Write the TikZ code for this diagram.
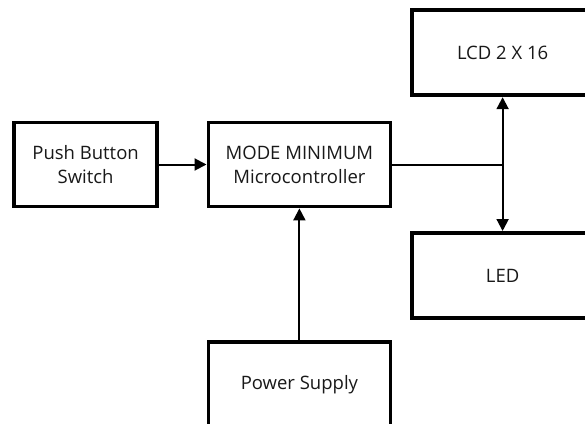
\documentclass[tikz,border=0pt]{standalone}
\usepackage{fontspec}
\setmainfont{Open Sans}
\usetikzlibrary{arrows.meta}
\begin{document}
\begin{tikzpicture}[x=1pt,y=-1pt,
  blk/.style={draw=black,line width=3.8pt,fill=white,align=center,inner sep=0pt,
    font=\fontsize{18.5}{24}\selectfont,text=black!90},
  conn/.style={line width=2pt,draw=black},
  arr/.style={conn,-{Triangle[length=12pt,width=12pt]}}]
\useasboundingbox (0,0) rectangle (585,423);
\clip (0,0) rectangle (585,423);
\fill[white] (0,0) rectangle (585,423);
\node[blk,minimum width=143pt,minimum height=84pt] (push) at (85.6,164.5) {Push Button\\Switch};
\node[blk,minimum width=182pt,minimum height=84pt] (mcu) at (299.4,164.5) {MODE MINIMUM\\Microcontroller};
\node[blk,minimum width=182pt,minimum height=85pt] (lcd) at (502.6,52.8) {LCD 2 X 16};
\node[blk,minimum width=182pt,minimum height=85pt] (led) at (502.6,275.4) {LED};
\node[blk,minimum width=182pt,minimum height=85pt] (pwr) at (299.4,384.5) {Power Supply};
\coordinate (j) at (502.6,164.5);
\draw[arr] (push.east) -- (mcu.west);
\draw[conn] (mcu.east) -- (j);
\draw[arr] (j) -- (lcd.south);
\draw[arr] (j) -- (led.north);
\draw[arr] (pwr.north) -- (mcu.south);
\end{tikzpicture}
\end{document}
